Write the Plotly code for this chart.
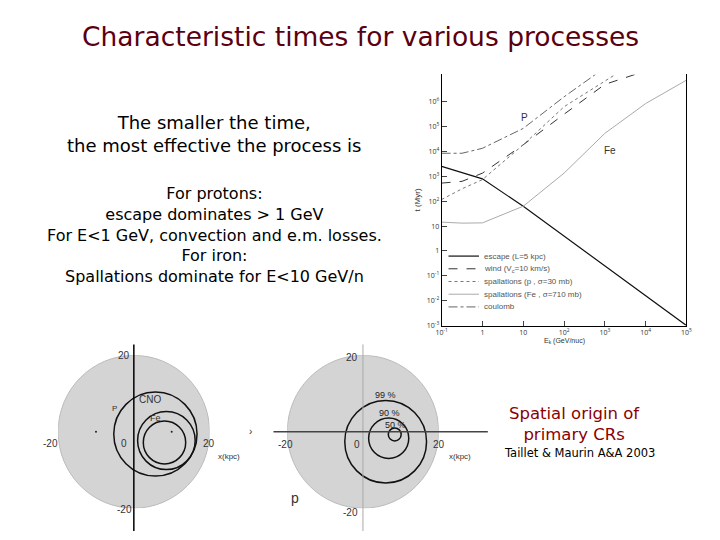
import plotly.graph_objects as go

# ---- data (log10 values) ----
esc_x = [-1, 0, 1, 2, 3, 4, 5]
esc_y = [3.4, 2.9, 1.8, 0.6, -0.6, -1.8, -3.0]
wind_x = [-1, -0.5, 0, 1, 2, 3, 3.74]
wind_y = [2.73, 2.8, 3.13, 4.27, 5.5, 6.7, 7.1]
spp_x = [-1, -0.5, 0, 1, 2, 3.26]
spp_y = [2.07, 2.5, 2.87, 4.27, 5.8, 7.1]
spfe_x = [-1, -0.5, 0, 1, 2, 3, 4, 5]
spfe_y = [1.16, 1.12, 1.13, 1.8, 3.13, 4.73, 5.93, 6.87]
coul_x = [-1, -0.5, 0, 1, 2, 2.77]
coul_y = [3.93, 3.93, 4.13, 4.93, 6.2, 7.1]
names = ["escape (L=5 kpc)", "wind (V<sub>c</sub>=10 km/s)", "spallations (p , σ=30 mb)",
         "spallations (Fe , σ=710 mb)", "coulomb"]
yticks = [-3, -2, -1, 0, 1, 2, 3, 4, 5, 6]
ytick_text = ["10<sup>-3</sup>", "10<sup>-2</sup>", "10<sup>-1</sup>", "1", "10", "10<sup>2</sup>",
              "10<sup>3</sup>", "10<sup>4</sup>", "10<sup>5</sup>", "10<sup>6</sup>"]
xticks = [-1, 0, 1, 2, 3, 4, 5]
xtick_text = ["10<sup>-1</sup>", "1", "10", "10<sup>2</sup>", "10<sup>3</sup>", "10<sup>4</sup>", "10<sup>5</sup>"]

# disk contours: (center x, center y, radius) in kpc
left_cont = [(5.7, -0.6, 11.0), (8.6, -2.3, 7.6), (8.1, -2.8, 5.6)]
right_cont = [(6.0, -2.6, 10.8), (6.8, -1.7, 5.3), (8.4, -0.7, 1.7)]
right_labels = [("99 %", 6.0, 9.5), ("90 %", 7.0, 4.8), ("50 %", 8.7, 1.8)]
disk_r = 20

W, H = 720, 540
def px(x): return x / W
def py(y): return 1 - y / H

fig = go.Figure()
pow10 = lambda a: [10 ** v for v in a]
styles = [dict(color="#111", width=1.2, dash="solid"),
          dict(color="#333", width=1, dash="dash"),
          dict(color="#777", width=1, dash="dot"),
          dict(color="#aaa", width=1, dash="solid"),
          dict(color="#666", width=1, dash="dashdot")]
for (xs, ys), n, s in zip([(esc_x, esc_y), (wind_x, wind_y), (spp_x, spp_y), (spfe_x, spfe_y), (coul_x, coul_y)], names, styles):
    fig.add_trace(go.Scatter(x=pow10(xs), y=pow10(ys), mode="lines", name=n, line=s, xaxis="x", yaxis="y",
                             showlegend=False))

for ax in [("x2", "y2"), ("x3", "y3")]:
    fig.add_trace(go.Scatter(x=[-disk_r, disk_r], y=[-disk_r, disk_r], mode="markers",
                             marker=dict(opacity=0), showlegend=False, hoverinfo="skip",
                             xaxis=ax[0], yaxis=ax[1]))
fig.add_trace(go.Scatter(x=[-10, 10], y=[0, 0], mode="markers", marker=dict(size=2, color="#222"),
                         showlegend=False, xaxis="x2", yaxis="y2"))

shapes = []
ann = []
def T(x, y, t, size=12, color="black", xref="paper", yref="paper", font="DejaVu Sans", **kw):
    d = dict(x=x, y=y, xref=xref, yref=yref, text=t, showarrow=False,
             font=dict(size=size, color=color, family=font), xanchor="center", yanchor="middle")
    d.update(kw)
    ann.append(d)

# manual legend
leg_y0 = 258
for i, (n, s) in enumerate(zip(names, styles)):
    yy = leg_y0 + i * 12.8
    shapes.append(dict(type="line", xref="paper", yref="paper", x0=px(450), x1=px(481),
                       y0=py(yy), y1=py(yy), line=s))
    T(px(484), py(yy), n, 8, color="#555", font="Liberation Sans", xanchor="left")

for xr, yr, conts in [("x2", "y2", left_cont), ("x3", "y3", right_cont)]:
    shapes.append(dict(type="circle", xref=xr, yref=yr, x0=-disk_r, x1=disk_r, y0=-disk_r, y1=disk_r,
                       fillcolor="#d4d4d4", line=dict(color="#bbb", width=1), layer="below"))
    for cx, cy, r in conts:
        shapes.append(dict(type="circle", xref=xr, yref=yr, x0=cx - r, x1=cx + r, y0=cy - r, y1=cy + r,
                           line=dict(color="#111", width=1.5)))
shapes.append(dict(type="line", xref="x2", yref="paper", x0=0, x1=0, y0=py(535), y1=py(347),
                   line=dict(color="black", width=1.5)))
shapes.append(dict(type="line", xref="x3", yref="paper", x0=0, x1=0, y0=py(535), y1=py(347),
                   line=dict(color="#aaa", width=1)))
shapes.append(dict(type="line", xref="paper", yref="y3", x0=px(272), x1=px(490), y0=0, y1=0,
                   line=dict(color="#444", width=1.5)))

T(px(360), py(37), "Characteristic times for various processes", 26.5, color="#5a0010")
T(px(212), py(135), "The smaller the time,<br>the most effective the process is", 18)
T(px(212), py(237), "For protons:<br>escape dominates > 1 GeV<br>For E<1 GeV, convection and e.m. losses.<br>For iron:<br>Spallations dominate for E<10 GeV/n", 16)
T(px(578), py(427), "Spatial origin of<br>primary CRs", 16.5, color="#8b0000")
T(px(583), py(456), "Taillet & Maurin A&A 2003", 11.5)
T(px(527), py(118), "P", 10, color="#333", font="Liberation Sans")
T(px(614), py(152), "Fe", 10, color="#333", font="Liberation Sans")
T(px(418), py(202), "t (Myr)", 8, color="#333", textangle=-90, font="Liberation Sans")
T(px(568), py(344), "E<sub>k</sub> (GeV/nuc)", 7, color="#333", font="Liberation Sans")
L = dict(color="#333", font="Liberation Sans")
T(px(120), py(358), "20", 10, **L); T(px(120), py(513), "-20", 10, **L)
T(px(45), py(447), "-20", 10, **L); T(px(120), py(447), "0", 10, **L)
T(px(206), py(447), "20", 10, **L); T(px(227), py(460), "x(kpc)", 8, **L)
T(px(110), py(412), "P", 8, **L); T(px(146), py(402), "CNO", 10, **L)
T(px(152), py(421), "Fe", 9, **L); T(px(249), py(435), "›", 10, **L)
T(px(352), py(360), "20", 10, **L); T(px(350), py(516), "-20", 10, **L)
T(px(284), py(448), "-20", 10, **L); T(px(357), py(448), "0", 10, **L)
T(px(440), py(448), "20", 10, **L); T(px(462), py(460), "x(kpc)", 8, **L)
T(px(294), py(502), "p", 14, **L)
for t, x, y in right_labels:
    T(x, y, t, 9, color="#222", xref="x3", yref="y3", font="Liberation Sans")

noax = dict(visible=False, range=[-disk_r, disk_r])
fig.update_layout(
    width=W, height=H, margin=dict(l=0, r=0, t=0, b=0),
    paper_bgcolor="white", plot_bgcolor="white", shapes=shapes, annotations=ann, showlegend=False,
    xaxis=dict(type="log", domain=[px(443), px(692)], range=[-1, 5], tickvals=pow10(xticks),
               ticktext=xtick_text, ticks="inside", ticklen=5, showline=True, linecolor="black",
               showgrid=False, zeroline=False, tickfont=dict(size=7, color="#333"), anchor="y"),
    yaxis=dict(type="log", domain=[py(328), py(75)], range=[-3, 7.1], tickvals=pow10(yticks),
               ticktext=ytick_text, ticks="inside", ticklen=5, showline=True, mirror=True,
               linecolor="black", showgrid=False, zeroline=False, tickfont=dict(size=7, color="#333"),
               anchor="x"),
    xaxis2=dict(domain=[px(53), px(207)], anchor="y2", **noax),
    yaxis2=dict(domain=[py(512), py(358)], anchor="x2", **noax),
    xaxis3=dict(domain=[px(286), px(440)], anchor="y3", **noax),
    yaxis3=dict(domain=[py(512), py(358)], anchor="x3", **noax),
)
html = fig.to_html(full_html=True, include_plotlyjs=True, config={"displayModeBar": False})
html = html.replace("<head>", "<head><style>html,body{margin:0;padding:0;}</style>", 1)
with open("out.html", "w", encoding="utf-8") as f:
    f.write(html)
